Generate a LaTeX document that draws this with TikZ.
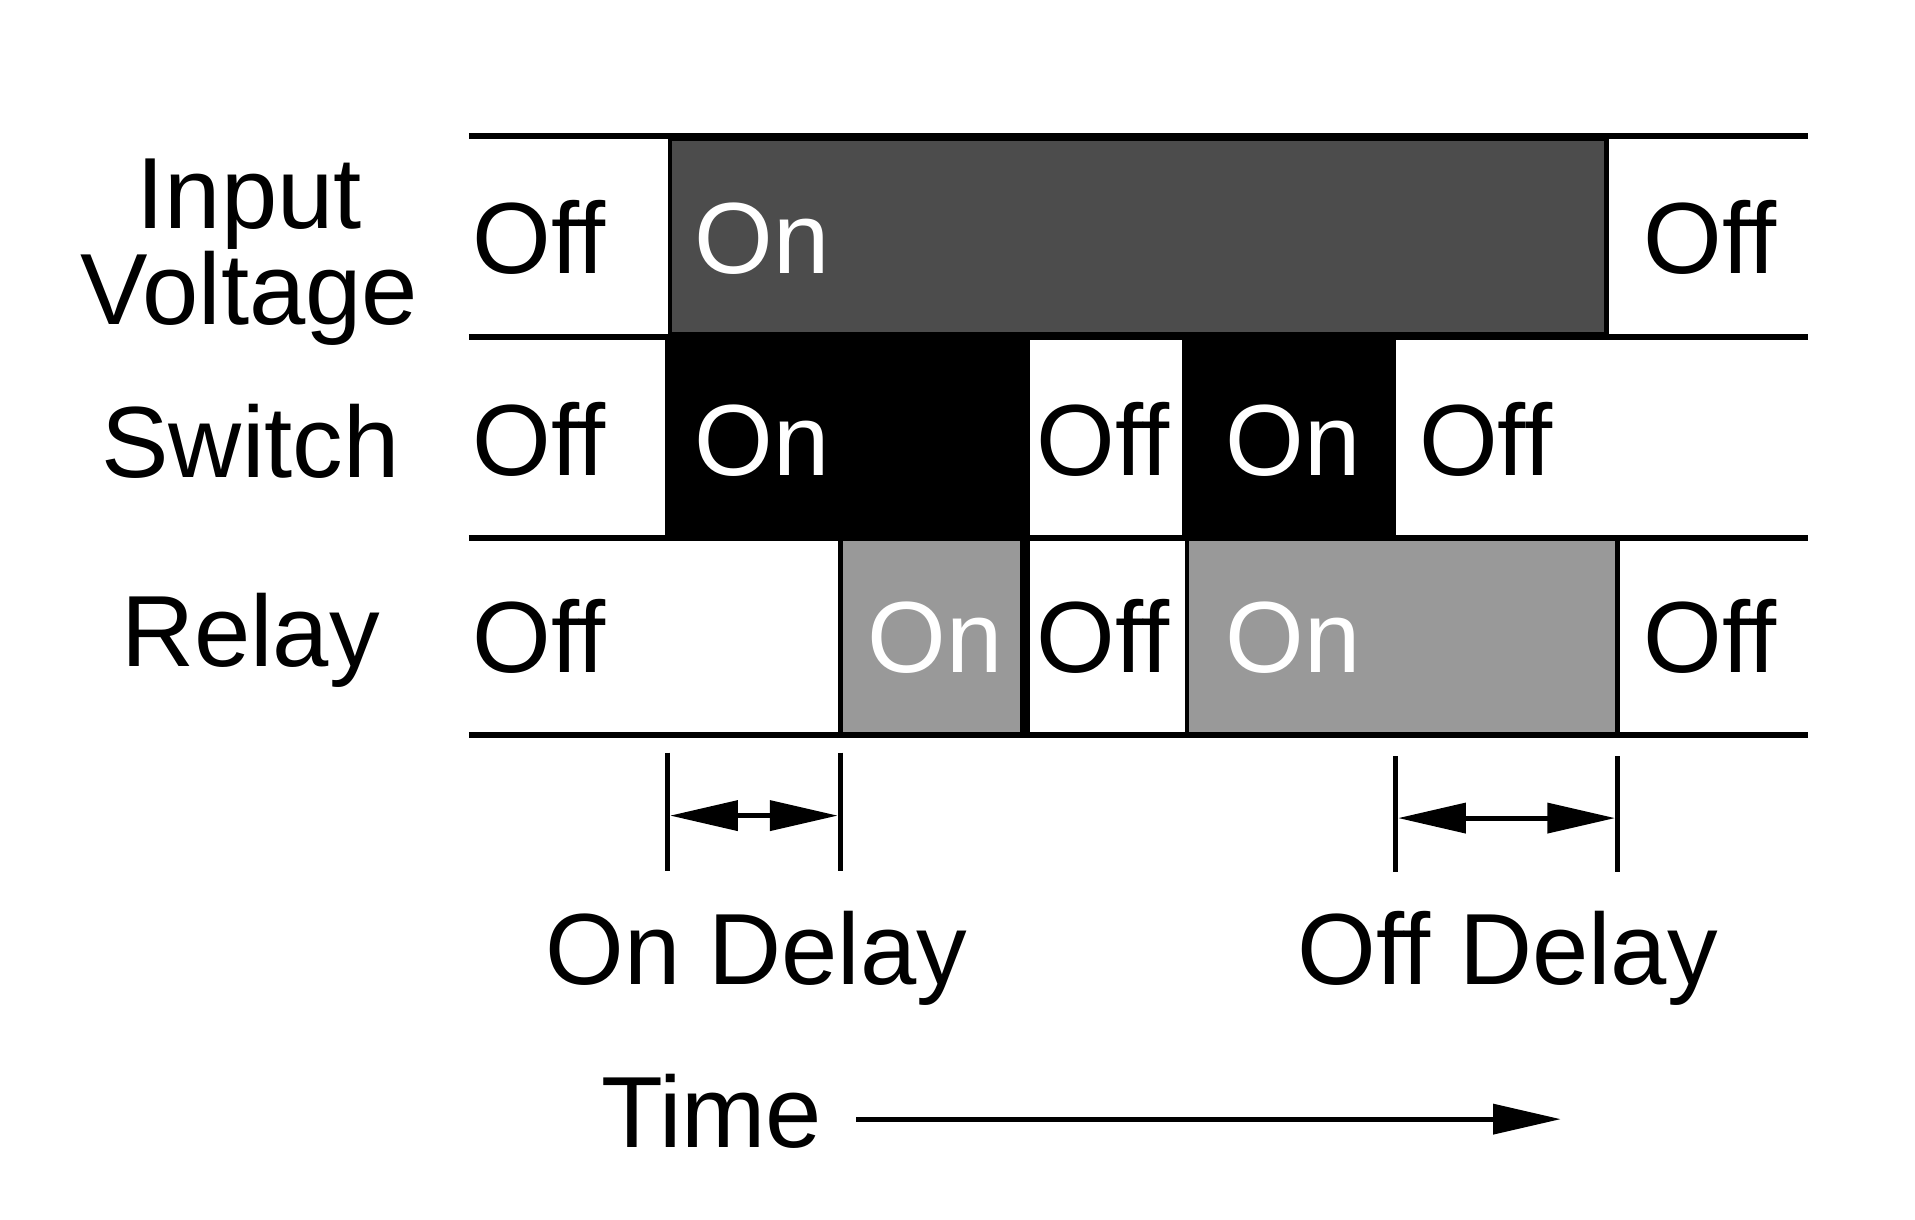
\documentclass[tikz,border=0pt]{standalone}
\usepackage{fontspec}
\setmainfont{Liberation Sans}
\usetikzlibrary{arrows.meta}
\begin{document}
\begin{tikzpicture}[x=1pt,y=-1pt,
  lbl/.style={anchor=base west,inner sep=0pt,font=\fontsize{82}{90}\selectfont},
  clbl/.style={anchor=base,inner sep=0pt,font=\fontsize{82}{90}\selectfont},
  ln/.style={line width=5pt},
  bx/.style={line width=4pt,draw=black},
  dim/.style={line width=4pt,{Triangle[length=55pt,width=24pt]}-{Triangle[length=55pt,width=24pt]}},
  tick/.style={line width=4pt}]
\useasboundingbox (0,0) rectangle (1552,988);
% boxes
\filldraw[bx,fill=black!70] (543,112) rectangle (1302,271);
\filldraw[bx,fill=black] (541,273) rectangle (833,436);
\filldraw[bx,fill=black] (960,273) rectangle (1129,436);
\draw[bx] (833,436) -- (833,596);
\filldraw[bx,fill=black!40] (681,436) rectangle (829,596);
\filldraw[bx,fill=black!40] (962,436) rectangle (1311,596);
% horizontal lines
\foreach \y/\n in {110/h1,273/h2,436/h3,596/h4} \draw[ln] (380,\y) -- (1465,\y);
% row labels
\node[clbl] (in) at (202,185) {Input};
\node[clbl] (vo) at (202,263) {Voltage};
\node[clbl] (sw) at (203,387) {Switch};
\node[clbl] (re) at (203,540) {Relay};
% states
\node[lbl] (a1) at (383,222) {Off};
\node[lbl,text=white] (a2) at (563,222) {On};
\node[lbl] (a3) at (1332,222) {Off};
\node[lbl] (b1) at (383,385) {Off};
\node[lbl,text=white] (b2) at (563,385) {On};
\node[lbl] (b3) at (840,385) {Off};
\node[lbl,text=white] (b4) at (993,385) {On};
\node[lbl] (b5) at (1150,385) {Off};
\node[lbl] (c1) at (383,545) {Off};
\node[lbl,text=white] (c2) at (703,545) {On};
\node[lbl] (c3) at (840,545) {Off};
\node[lbl,text=white] (c4) at (993,545) {On};
\node[lbl] (c5) at (1332,545) {Off};
% delays
\coordinate (d1t) at (541,610); \coordinate (d1b) at (541,706);
\coordinate (d2t) at (681,610); \coordinate (d2b) at (681,706);
\coordinate (d3t) at (1131,613); \coordinate (d3b) at (1131,707);
\coordinate (d4t) at (1311,613); \coordinate (d4b) at (1311,707);
\draw[tick] (d1t) -- (d1b); \draw[tick] (d2t) -- (d2b);
\draw[tick] (d3t) -- (d3b); \draw[tick] (d4t) -- (d4b);
\coordinate (e1) at (543,661); \coordinate (e2) at (679,661);
\coordinate (e3) at (1133,663); \coordinate (e4) at (1309,663);
\draw[dim] (e1) -- (e2);
\draw[dim] (e3) -- (e4);
\node[clbl] (on) at (613,798) {On Delay};
\node[clbl] (off) at (1222,798) {Off Delay};
\node[lbl] (time) at (487,930) {Time};
\coordinate (t1) at (694,907); \coordinate (t2) at (1265,907);
\draw[line width=4pt,-{Triangle[length=55pt,width=24pt]}] (t1) -- (t2);
\end{tikzpicture}
\end{document}
